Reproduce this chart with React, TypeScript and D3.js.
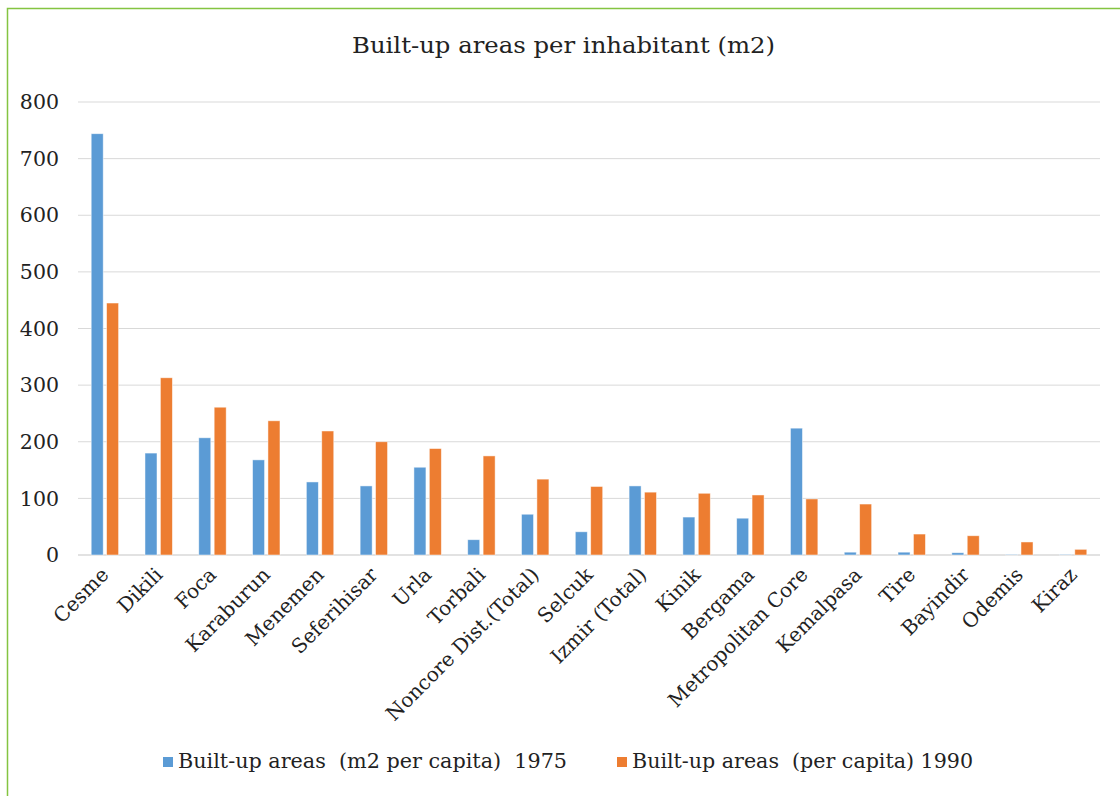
import * as d3 from 'd3';

const categories = [
  'Cesme', 'Dikili', 'Foca', 'Karaburun', 'Menemen', 'Seferihisar', 'Urla', 'Torbali',
  'Noncore Dist.(Total)', 'Selcuk', 'Izmir (Total)', 'Kinik', 'Bergama', 'Metropolitan Core',
  'Kemalpasa', 'Tire', 'Bayindir', 'Odemis', 'Kiraz',
];
const values1975 = [744, 180, 207, 168, 129, 122, 155, 27, 72, 41, 122, 67, 65, 224, 5, 5, 4, 1, 1];
const values1990 = [445, 313, 261, 237, 219, 200, 188, 175, 134, 121, 111, 109, 106, 99, 90, 37, 34, 23, 10];
const yTicks = [0, 100, 200, 300, 400, 500, 600, 700, 800];
const seriesNames = ['Built-up areas  (m2 per capita)  1975', 'Built-up areas  (per capita) 1990'];
const seriesColors = ['#5B9BD5', '#ED7D31'];

const W = 1120;
const H = 796;
const SERIF = '"DejaVu Serif", serif';

const App = () => {
  const x = d3.scaleBand().domain(categories).range([78, 1100]).padding(0);
  const inner = d3.scaleBand().domain(['1975', '1990']).range([0, 27.4]).paddingInner(0.22);
  const y = d3.scaleLinear().domain([0, 800]).range([555, 102]);
  const off = (x.bandwidth() - 27.4) / 2;
  const series = [values1975, values1990];
  // legend text widths
  const legendWidths = [389, 341];

  return (
    <svg width={W} height={H} style={{ position: 'absolute', left: 0, top: 0, background: '#fff' }}>
      <rect x={0} y={0} width={W} height={H} fill="#fff" />
      <path d="M7.5,800 L7.5,8.5 L1130,8.5" fill="none" stroke="#84C441" strokeWidth={1.5} />
      <text
        x={352}
        y={53}
        fontFamily={SERIF}
        fontSize={23}
        fill="#222"
        textLength={423}
        lengthAdjust="spacingAndGlyphs"
      >
        Built-up areas per inhabitant (m2)
      </text>
      {yTicks.map((t) => (
        <g key={t}>
          <line x1={78} x2={1100} y1={y(t)} y2={y(t)} stroke="#D9D9D9" strokeWidth={t === 0 ? 1.5 : 1} />
          <text x={59} y={y(t)} dy="0.35em" textAnchor="end" fontFamily={SERIF} fontSize={20.5} fill="#222">
            {t}
          </text>
        </g>
      ))}
      {series.map((vals, si) =>
        vals.map((v, i) => (
          <rect
            key={`${si}-${i}`}
            x={(x(categories[i]) ?? 0) + off + (inner(si === 0 ? '1975' : '1990') ?? 0)}
            y={y(v)}
            width={inner.bandwidth()}
            height={y(0) - y(v)}
            fill={seriesColors[si]}
            stroke="#fff"
            strokeOpacity={0.6}
            strokeWidth={0.8}
          />
        ))
      )}
      {categories.map((c) => (
        <text
          key={c}
          transform={`translate(${(x(c) ?? 0) + x.bandwidth() / 2 + 5},${576}) rotate(-45)`}
          textAnchor="end"
          fontFamily={SERIF}
          fontSize={20}
          fill="#222"
        >
          {c}
        </text>
      ))}
      {seriesNames.map((n, i) => {
        const lx = i === 0 ? 163 : 617;
        return (
          <g key={n}>
            <rect x={lx} y={757} width={10} height={10} fill={seriesColors[i]} />
            <text
              x={lx + 15}
              y={768}
              fontFamily={SERIF}
              fontSize={19.5}
              fill="#222"
              style={{ whiteSpace: 'pre' }}
              textLength={legendWidths[i]}
              lengthAdjust="spacingAndGlyphs"
            >
              {n}
            </text>
          </g>
        );
      })}
    </svg>
  );
};

export default App;
